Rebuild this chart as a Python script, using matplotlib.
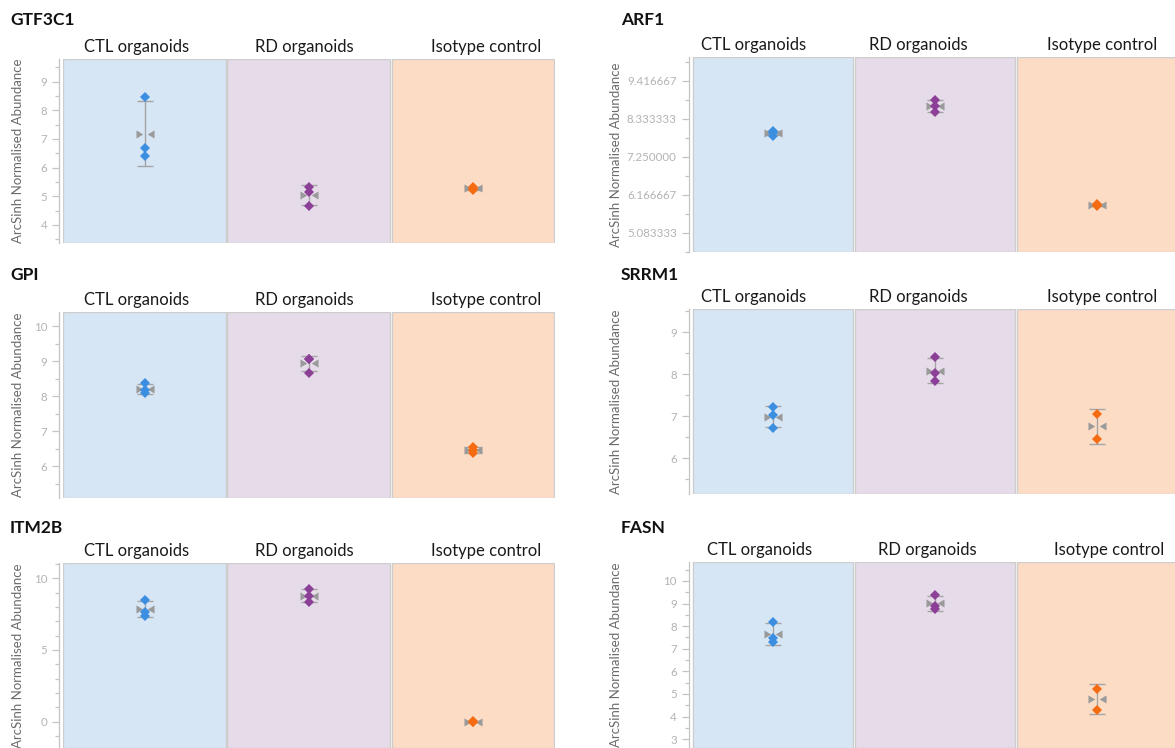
import numpy as np
import matplotlib
matplotlib.use("Agg")
import matplotlib.pyplot as plt
from matplotlib.path import Path
from matplotlib.patches import Rectangle
from matplotlib.ticker import FixedLocator, MultipleLocator, FormatStrFormatter

plt.rcParams["font.family"] = ["Lato", "DejaVu Sans"]

W, H, DPI = 1175, 748, 100

groups = ["CTL organoids", "RD organoids", "Isotype control"]
bg_colors = ["#d7e6f5", "#e6dbe9", "#fddcc6"]
pt_colors = ["#3b8ee0", "#8b3f96", "#f46b12"]

# ArcSinh normalised abundance per replicate (CTL, RD, Isotype)
gtf3c1_ctl = [8.47, 6.69, 6.40]
gtf3c1_rd = [5.33, 5.14, 4.65]
gtf3c1_iso = [5.33, 5.27, 5.22]

arf1_ctl = [7.98, 7.93, 7.86]
arf1_rd = [8.88, 8.70, 8.54]
arf1_iso = [5.92, 5.88, 5.84]

gpi_ctl = [8.36, 8.17, 8.08]
gpi_rd = [9.07, 9.05, 8.67]
gpi_iso = [6.55, 6.45, 6.37]

srrm1_ctl = [7.21, 7.04, 6.71]
srrm1_rd = [8.40, 8.02, 7.83]
srrm1_iso = [7.06, 6.47]

itm2b_ctl = [8.49, 7.67, 7.40]
itm2b_rd = [9.23, 8.79, 8.37]
itm2b_iso = [0.03, 0.00, -0.03]

fasn_ctl = [8.19, 7.48, 7.29]
fasn_rd = [9.40, 8.88, 8.75]
fasn_iso = [5.24, 4.30]

arf1_ticks = [5.083333, 6.166667, 7.250000, 8.333333, 9.416667]

panels = [
    dict(name="GTF3C1", data=[gtf3c1_ctl, gtf3c1_rd, gtf3c1_iso],
         box=(62.7, 59, 555, 243), ylim=(3.37, 9.79),
         major=[4, 5, 6, 7, 8, 9], minor=0.5, fmt="%d",
         title_xy=(10, 25), label_x=18, heads=[137, 304, 486]),
    dict(name="ARF1", data=[arf1_ctl, arf1_rd, arf1_iso],
         box=(692, 57, 1178, 252), ylim=(4.54, 10.10),
         major=arf1_ticks, minor=None, fmt="%.6f",
         title_xy=(621, 25), label_x=616, heads=[754, 918, 1102]),
    dict(name="GPI", data=[gpi_ctl, gpi_rd, gpi_iso],
         box=(62.7, 312, 555, 498), ylim=(5.09, 10.40),
         major=[6, 7, 8, 9, 10], minor=0.5, fmt="%d",
         title_xy=(10, 280), label_x=18, heads=[137, 304, 486]),
    dict(name="SRRM1", data=[srrm1_ctl, srrm1_rd, srrm1_iso],
         box=(692, 309, 1178, 494), ylim=(5.15, 9.55),
         major=[6, 7, 8, 9], minor=0.5, fmt="%d",
         title_xy=(621, 280), label_x=616, heads=[754, 918, 1102]),
    dict(name="ITM2B", data=[itm2b_ctl, itm2b_rd, itm2b_iso],
         box=(62.7, 563, 555, 748), ylim=(-1.84, 11.07),
         major=[0, 5, 10], minor=1.0, fmt="%d",
         title_xy=(10, 533), label_x=18, heads=[137, 304, 486]),
    dict(name="FASN", data=[fasn_ctl, fasn_rd, fasn_iso],
         box=(692, 562, 1178, 748), ylim=(2.61, 10.84),
         major=[3, 4, 5, 6, 7, 8, 9, 10], minor=0.5, fmt="%d",
         title_xy=(621, 533), label_x=616, heads=[760, 927, 1109]),
]

# Mean glyph: two grey triangles pointing at the centre
mean_path = Path(
    [(-1, -0.45), (-1, 0.45), (-0.25, 0), (-1, -0.45),
     (1, -0.45), (1, 0.45), (0.25, 0), (1, -0.45)],
    [Path.MOVETO, Path.LINETO, Path.LINETO, Path.CLOSEPOLY,
     Path.MOVETO, Path.LINETO, Path.LINETO, Path.CLOSEPOLY])

fig = plt.figure(figsize=(W / DPI, H / DPI), dpi=DPI)
fig.patch.set_facecolor("white")

axis_grey = "#c4c4c4"
label_grey = "#b3b3b3"

for p in panels:
    x0, y0, x1, y1 = p["box"]
    ax = fig.add_axes([x0 / W, 1 - y1 / H, (x1 - x0) / W, (y1 - y0) / H])
    ax.set_xlim(0, 3)
    ax.set_ylim(*p["ylim"])
    ax.patch.set_alpha(0)

    lo, hi = p["ylim"]
    for i, c in enumerate(bg_colors):
        ax.add_patch(Rectangle((i + 0.004, lo), 0.992, hi - lo, facecolor=c,
                               edgecolor="#cdcdcd", linewidth=1.0, zorder=0,
                               clip_on=True))

    for i, vals in enumerate(p["data"]):
        xc = i + 0.5
        v = np.asarray(vals, dtype=float)
        m = v.mean()
        sd = v.std(ddof=1)
        ax.errorbar([xc], [m], yerr=[sd], fmt="none", ecolor="#a4a4a4",
                    elinewidth=1.0, capsize=5.5, capthick=1.0, zorder=2)
        ax.plot([xc], [m], linestyle="none", marker=mean_path, markersize=13,
                color="#9a9a9a", markeredgewidth=0, zorder=3)
        ax.plot([xc] * len(v), v, linestyle="none", marker="D", markersize=5,
                color=pt_colors[i], markeredgewidth=0, zorder=4)

    for s in ["top", "right", "bottom"]:
        ax.spines[s].set_visible(False)
    ax.spines["left"].set_position(("outward", 2.5))
    ax.spines["left"].set_color(axis_grey)
    ax.spines["left"].set_linewidth(0.9)
    ax.set_xticks([])

    ax.yaxis.set_major_locator(FixedLocator(p["major"]))
    if p["minor"] is not None:
        ax.yaxis.set_minor_locator(MultipleLocator(p["minor"]))
    else:
        step = p["major"][1] - p["major"][0]
        mins = [p["major"][0] - step / 2] + [t + step / 2 for t in p["major"]]
        ax.yaxis.set_minor_locator(FixedLocator(mins))
    ax.yaxis.set_major_formatter(FormatStrFormatter(p["fmt"]))
    ax.tick_params(axis="y", which="major", length=5, width=0.9,
                   color=axis_grey, labelcolor=label_grey, labelsize=8.3, pad=3.5)
    ax.tick_params(axis="y", which="minor", length=3, width=0.9,
                   color=axis_grey)

    tx, ty = p["title_xy"]
    fig.text(tx / W, 1 - ty / H, p["name"], fontsize=12.5, fontweight="bold",
             color="#111111", ha="left", va="baseline")

    fig.text(p["label_x"] / W, 1 - ((y0 + y1) / 2) / H,
             "ArcSinh Normalised Abundance", rotation=90, fontsize=9.5,
             color="#6b6b6b", ha="center", va="center")

    for hx, g in zip(p["heads"], groups):
        fig.text(hx / W, 1 - (y0 - 7) / H, g, fontsize=12, color="#1a1a1a",
                 ha="center", va="baseline")

fig.savefig("out.png", dpi=DPI, facecolor="white")
